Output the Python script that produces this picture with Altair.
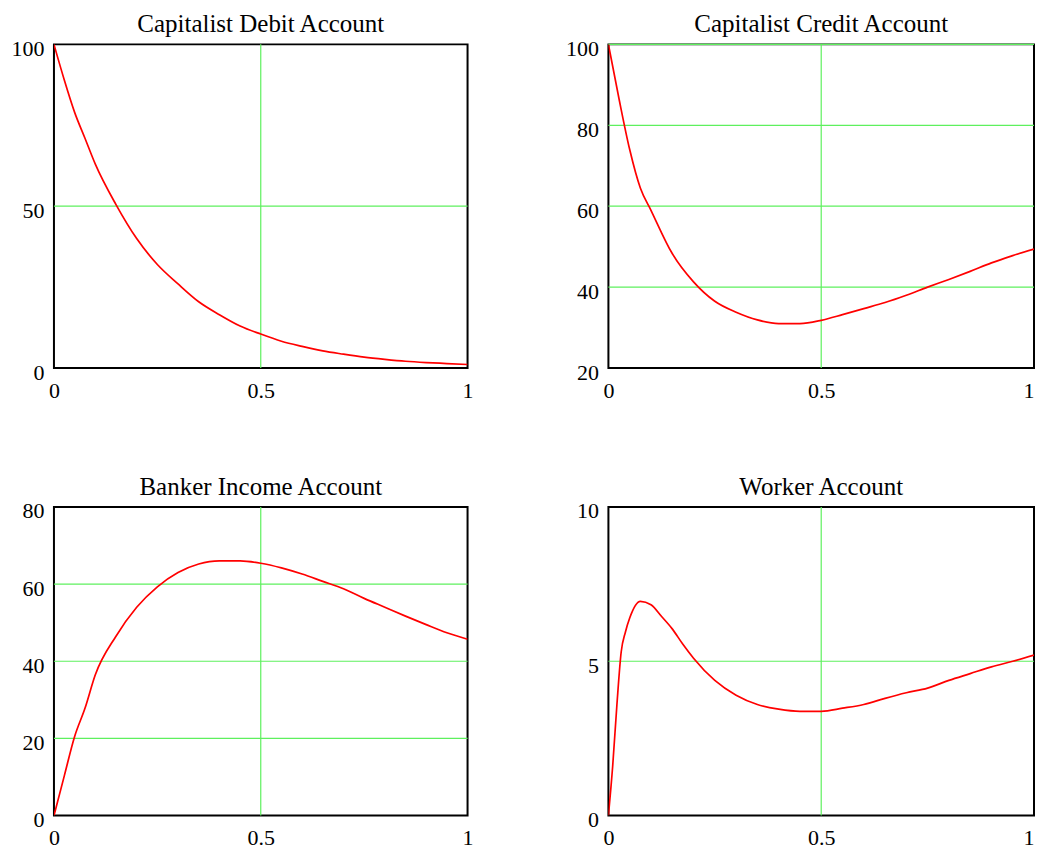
import altair as alt
import pandas as pd

# ---- data ----
debit_x = [0, 0.025, 0.05, 0.075, 0.10, 0.15, 0.20, 0.25, 0.30, 0.35, 0.40, 0.45, 0.50,
           0.55, 0.60, 0.65, 0.70, 0.75, 0.80, 0.85, 0.90, 0.95, 1.00]
debit_y = [100, 89, 79, 71, 63, 50.5, 40, 32, 26, 20.5, 16.5, 13, 10.5,
           8.3, 6.7, 5.3, 4.3, 3.4, 2.7, 2.1, 1.7, 1.4, 1.1]

credit_x = [0, 0.025, 0.05, 0.075, 0.10, 0.15, 0.20, 0.25, 0.30, 0.35, 0.40, 0.45, 0.50,
            0.55, 0.60, 0.65, 0.70, 0.75, 0.80, 0.85, 0.90, 0.95, 1.00]
credit_y = [100, 86.5, 74, 64.5, 59, 48.3, 41.3, 36.5, 33.8, 31.9, 31.0, 31.0, 31.8,
            33.2, 34.7, 36.2, 38.0, 40.0, 41.9, 43.9, 46.0, 47.8, 49.4]

banker_x = [0, 0.025, 0.05, 0.075, 0.10, 0.15, 0.20, 0.25, 0.30, 0.35, 0.40, 0.45, 0.50,
            0.55, 0.60, 0.65, 0.70, 0.75, 0.80, 0.85, 0.90, 0.95, 1.00]
banker_y = [0, 10.3, 20.5, 27.8, 36.5, 46.5, 54.0, 59.3, 63.0, 65.2, 66.0, 66.0, 65.4,
            64.2, 62.6, 60.7, 58.8, 56.3, 54.0, 51.7, 49.5, 47.4, 45.7]

worker_x = [0, 0.01, 0.02, 0.03, 0.04, 0.05, 0.075, 0.10, 0.125, 0.15, 0.175, 0.20, 0.25,
            0.30, 0.35, 0.40, 0.45, 0.50, 0.55, 0.60, 0.65, 0.70, 0.75, 0.80, 0.85,
            0.90, 0.95, 1.00]
worker_y = [0, 1.6, 3.6, 5.3, 5.95, 6.4, 6.94, 6.83, 6.45, 6.05, 5.55, 5.1, 4.38,
            3.9, 3.6, 3.45, 3.38, 3.38, 3.48, 3.6, 3.8, 3.98, 4.13, 4.38, 4.6,
            4.82, 5.0, 5.2]

titles = ["Capitalist Debit Account", "Capitalist Credit Account",
          "Banker Income Account", "Worker Account"]
y_ticks = [[0, 50, 100], [20, 40, 60, 80, 100], [0, 20, 40, 60, 80], [0, 5, 10]]
y_grid = [[50], [40, 60, 80, 100], [20, 40, 60], [5]]
x_ticks = [0, 0.5, 1]
x_grid = [0.5]

FONT = "Liberation Serif"
GRID = "#5ef05e"


def panel(xs, ys, title, yt, yg, w, h, right_col=False):
    df = pd.DataFrame({"x": xs, "y": ys})
    xs_scale = alt.Scale(domain=[0, 1], nice=False, zero=False)
    ys_scale = alt.Scale(domain=[yt[0], yt[-1]], nice=False, zero=False)
    if right_col:
        x_axis = alt.Axis(values=x_ticks, format="~g", title=None,
                          labelAlign={"expr": "datum.value == 1 ? 'right' : 'center'"})
    else:
        x_axis = alt.Axis(values=x_ticks, format="~g", title=None)
    y_axis = alt.Axis(values=yt, title=None)
    hgrid = alt.Chart(pd.DataFrame({"g": yg})).mark_rule(
        color=GRID, strokeWidth=1.2).encode(
        y=alt.Y("g:Q", scale=ys_scale, axis=y_axis, title=None))
    vgrid = alt.Chart(pd.DataFrame({"g": x_grid})).mark_rule(
        color=GRID, strokeWidth=1.2).encode(
        x=alt.X("g:Q", scale=xs_scale, axis=x_axis, title=None))
    line = (
        alt.Chart(df)
        .mark_line(color="#ff0000", strokeWidth=1.7, clip=True, interpolate="monotone")
        .encode(
            x=alt.X("x:Q", scale=xs_scale, axis=x_axis, title=None),
            y=alt.Y("y:Q", scale=ys_scale, axis=y_axis, title=None),
        )
    )
    return alt.layer(hgrid, vgrid, line).properties(
        width=w, height=h,
        title=alt.TitleParams(title, font=FONT, fontSize=25,
                              fontWeight="normal", color="black", offset=0))


charts = [
    panel(debit_x, debit_y, titles[0], y_ticks[0], y_grid[0], 414, 324),
    panel(credit_x, credit_y, titles[1], y_ticks[1], y_grid[1], 426, 324, True),
    panel(banker_x, banker_y, titles[2], y_ticks[2], y_grid[2], 414, 309),
    panel(worker_x, worker_y, titles[3], y_ticks[3], y_grid[3], 426, 309, True),
]

chart = (
    alt.concat(*charts, columns=2, spacing={"row": 139, "column": 141}, bounds="flush")
    .properties(padding={"left": 2, "top": 3, "right": 0, "bottom": 0},
                background="white")
    .configure_view(stroke="black", strokeWidth=2)
    .configure_axis(
        grid=False, ticks=False, domain=False,
        labelFont=FONT, labelFontSize=22, labelColor="black",
    )
    .configure_axisY(labelPadding=10, labelOffset=4, labelBaseline="middle")
    .configure_axisX(labelPadding=12, labelFlush=False)
)

chart.save("out.html", embed_options={"renderer": "svg", "actions": False})
